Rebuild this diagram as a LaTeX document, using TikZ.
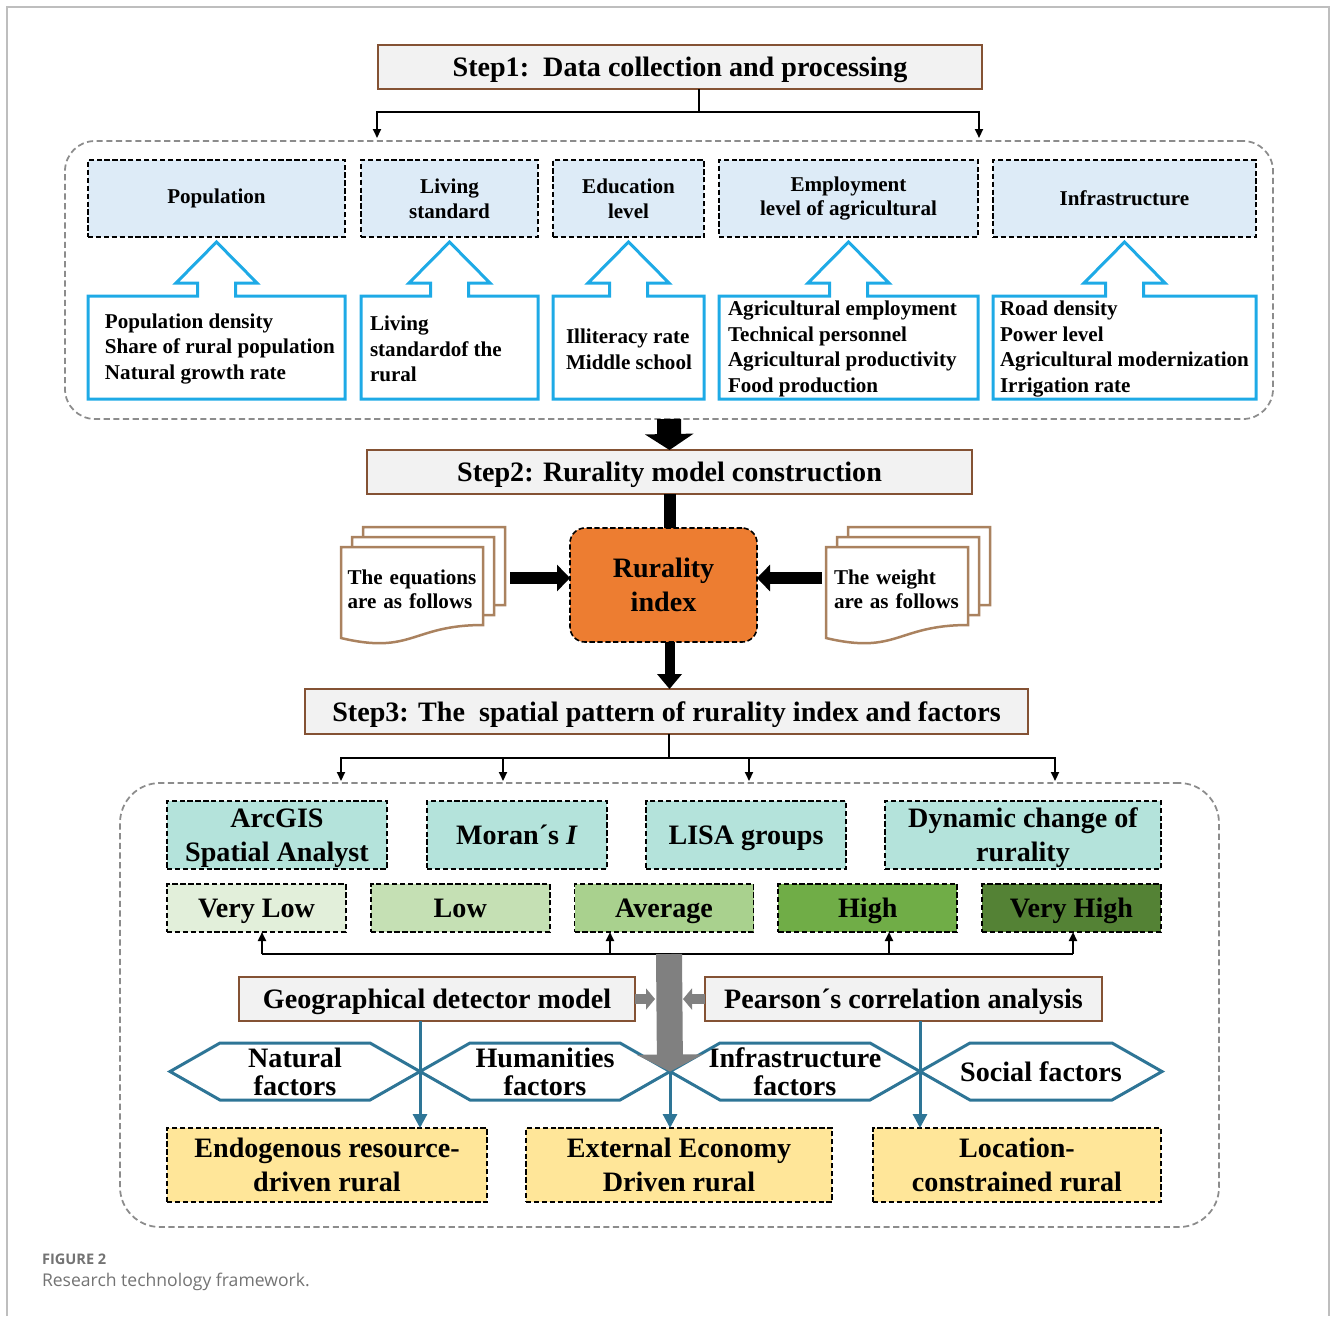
\documentclass[tikz,border=0pt]{standalone}
\usepackage{fontspec}
\setmainfont{Liberation Serif}
\newfontfamily\capfont{Open Sans}
\usetikzlibrary{arrows.meta}
\definecolor{brn}{RGB}{132,82,52}
\definecolor{boxgray}{RGB}{242,242,242}
\definecolor{ltblue}{RGB}{221,235,247}
\definecolor{cyn}{RGB}{30,170,230}
\definecolor{orng}{RGB}{237,125,49}
\definecolor{docbrn}{RGB}{170,130,95}
\definecolor{tealbg}{RGB}{180,227,219}
\definecolor{g1}{RGB}{226,239,218}
\definecolor{g2}{RGB}{197,224,180}
\definecolor{g3}{RGB}{169,209,142}
\definecolor{g4}{RGB}{112,173,71}
\definecolor{g5}{RGB}{84,130,53}
\definecolor{hexblue}{RGB}{46,117,150}
\definecolor{ylw}{RGB}{255,230,153}
\definecolor{frm}{RGB}{190,190,190}
\definecolor{capgray}{RGB}{115,115,115}
\definecolor{fatgray}{RGB}{128,128,128}
\tikzset{
    sz/.style 2 args={minimum width=#1*0.02cm, minimum height=#2*0.02cm},
    stepbox/.style={draw=brn, fill=boxgray, line width=1.2pt, text depth=0pt, font=\bfseries\fontsize{16}{19}\selectfont},
    dbox/.style={draw=black, line width=0.9pt, dash pattern=on 3pt off 1.5pt, align=center},
    topbox/.style={dbox, fill=ltblue, font=\bfseries\fontsize{12}{14.2}\selectfont},
    calbox/.style={align=left, font=\bfseries\fontsize{12}{14.6}\selectfont},
    doctext/.style={align=left, font=\bfseries\fontsize{12}{13.7}\selectfont},
    bigbox/.style={dbox, font=\bfseries\fontsize{16}{19.3}\selectfont},
    hexn/.style={align=center, font=\bfseries\fontsize{16}{16}\selectfont},
    cont/.style={draw=black!45, line width=1pt, dash pattern=on 3.5pt off 2pt},
    blk/.style={-{Triangle[length=0.18cm,width=0.16cm]}, line width=0.04cm},
    page/.style={draw=docbrn, fill=white, line width=0.05cm}
}
\begin{document}
\begin{tikzpicture}[x=0.02cm, y=-0.02cm,
    every node/.style={outer sep=0pt, inner sep=0pt, font=\bfseries}]
\useasboundingbox (0,0) rectangle (1331,1316);
\draw[frm, line width=1.2pt] (7,1316) -- (7,7) -- (1329,7) -- (1329,1316);

% step 1
\node[stepbox, sz={604}{44}] (step1) at (680,67) {Step1:\ \ Data collection and processing};
\node[cont, rounded corners=0.6cm, sz={1208}{278}] (box1) at (669,280) {};
\coordinate (j1) at (699,112);
\coordinate (a1) at (377,138);
\coordinate (a2) at (979,138);
\draw[line width=0.04cm] (step1.south -| j1) -- (j1);
\draw[blk] (j1) -| (a1);
\draw[blk] (j1) -| (a2);

\foreach \n/\cx/\w/\t in {pop/216.5/257/Population, liv/449.5/177/{Living\\standard},
    edu/628.5/151/{Education\\level}, emp/848.5/259/{Employment\\level of agricultural},
    inf/1124.5/263/Infrastructure}
  \node[topbox, sz={\w}{77}] (\n) at (\cx,198.5) {\t};

% indicator boxes with their arrows
\foreach \n/\cx/\w/\d/\t in {pop/216.5/257/0.34/{Population density\\Share of rural population\\Natural growth rate},
    liv/449.5/177/0.18/{Living\\standardof the\\rural},
    edu/628.5/151/0.26/{Illiteracy rate\\Middle school},
    emp/848.5/259/0.18/{Agricultural employment\\Technical personnel\\Agricultural productivity\\Food production},
    inf/1124.5/263/0.14/{Road density\\Power level\\Agricultural modernization\\Irrigation rate}} {
  \node[sz={\w}{103}] (\n i) at (\cx,347.5) {};
  \node[calbox, anchor=west] (\n t) at ([xshift=\d cm, yshift=-0.03cm]\n i.west) {\t};
  \draw[cyn, line width=0.06cm] (\n i.north west) -- ([xshift=-0.38cm]\n i.north) -- ++(0,-13)
    -- ++(-21.5,0) -- ++(40.5,-41) -- ++(40.5,41) -- ++(-21.5,0) -- ++(0,13)
    -- (\n i.north east) |- (\n i.south west) -- cycle;
}

% step 2
\node[stepbox, sz={605}{44}] (step2) at (669.5,472) {Step2: Rurality model construction};
\draw[line width=0.48cm, -{Triangle[length=0.32cm,width=0.96cm]}] (box1.south) -- (step2.north);

\node[dbox, fill=orng, rounded corners=0.3cm, sz={187}{114},
  font=\bfseries\fontsize{16}{19.3}\selectfont] (rur) at (663.5,585) {Rurality\\index};
\draw[line width=0.24cm] (step2.south) -- (step2.south |- rur.north);

\foreach \dx/\dy in {22/-20, 11/-10, 0/0} {
  \filldraw[page, shift={(341+\dx,547+\dy)}] (0,0) -- (142,0) -- (142,78)
    .. controls (71,78) and (71,108) .. (0,91) -- cycle;
  \filldraw[page, shift={(826+\dx,547+\dy)}] (0,0) -- (142,0) -- (142,78)
    .. controls (71,78) and (71,108) .. (0,91) -- cycle;
}
\node[doctext, sz={142}{80}, text width=2.58cm, inner xsep=0.13cm] (eq) at (412,589)
  {The equations\\are as follows};
\node[doctext, sz={142}{80}, text width=2.52cm, inner xsep=0.16cm] (wt) at (897,589)
  {The weight\\are as follows};
\coordinate (eqa) at ([xshift=0.54cm, yshift=0.22cm]eq.east);
\coordinate (wta) at ([xshift=-0.08cm, yshift=0.22cm]wt.west);
\draw[line width=0.24cm, -{Triangle[length=0.26cm,width=0.52cm]}] (eqa) -- (eqa -| rur.west);
\draw[line width=0.24cm, -{Triangle[length=0.26cm,width=0.52cm]}] (wta) -- (wta -| rur.east);

% step 3
\node[stepbox, sz={723}{45}] (step3) at (666.5,711.5) {Step3: The\ \ spatial pattern of rurality index and factors};
\draw[line width=0.2cm, -{Triangle[length=0.3cm,width=0.48cm]}] (rur.south -| step2.south) -- (step3.north -| step2.south);

\node[cont, rounded corners=0.8cm, sz={1099}{444}] (box2) at (669.5,1005) {};
\coordinate (j3) at (669,758);
\draw[line width=0.04cm] (step3.south -| j3) -- (j3);
\foreach \x in {341,503,749,1055} {
  \coordinate (b\x) at (\x,781);
  \draw[blk] (j3) -| (b\x);
}

\foreach \n/\cx/\w/\t in {arc/277/220/{ArcGIS\\Spatial Analyst}, mor/517/180/{Moran´s \textit{I}},
    lisa/746/200/LISA groups, dyn/1023/276/{Dynamic change of\\rurality}}
  \node[bigbox, fill=tealbg, text depth=0pt, sz={\w}{68}] (\n) at (\cx,835) {\t};

\foreach \n/\c/\t [count=\i] in {vl/g1/Very Low, lo/g2/Low, av/g3/Average, hi/g4/High, vh/g5/Very High}
  \node[bigbox, fill=\c, text depth=0pt, sz={179}{48}] (\n) at ({256.5+203.75*(\i-1)},908) {\t};

\coordinate (l1) at (262,954);
\coordinate (l2) at (610,954);
\coordinate (l3) at (889,954);
\coordinate (l4) at (1073,954);
\coordinate (lc) at (669,954);
\draw[line width=0.04cm] (l1) -- (l4);
\draw[blk] (l1) -- (vl.south -| l1);
\draw[blk] (l2) -- (av.south -| l2);
\draw[blk] (l3) -- (hi.south -| l3);
\draw[blk] (l4) -- (vh.south -| l4);

\node[stepbox, sz={396}{44}] (geo) at (437,999) {Geographical detector model};
\node[stepbox, sz={397}{44}] (pea) at (903.5,999) {Pearson´s correlation analysis};

\foreach \n/\cx/\w/\t in {nat/295/250/{Natural\\factors}, hum/545/250/{Humanities\\factors},
    ift/795/250/{Infrastructure\\factors}, soc/1041/242/Social factors} {
  \node[hexn, sz={\w}{57}] (\n) at (\cx,1071.5) {\t};
  \draw[hexblue, line width=0.06cm] (\n.west) -- ([xshift=1cm]\n.north west) -- ([xshift=-1cm]\n.north east)
    -- (\n.east) -- ([xshift=-1cm]\n.south east) -- ([xshift=1cm]\n.south west) -- cycle;
}

\draw[fatgray, line width=0.52cm, -{Triangle[length=0.34cm,width=1.32cm]}] (lc) -- (hum.east);
\draw[fatgray, line width=0.2cm, -{Triangle[length=0.18cm,width=0.42cm]}] (geo.east) -- ++(20,0);
\draw[fatgray, line width=0.2cm, -{Triangle[length=0.18cm,width=0.42cm]}] (pea.west) -- ++(-22,0);

\foreach \n/\cx/\w/\t in {en/327/320/{Endogenous resource-\\driven rural},
    ex/679/306/{External Economy\\Driven rural}, loc/1017/288/{Location-\\constrained rural}}
  \node[bigbox, fill=ylw, sz={\w}{74}] (\n) at (\cx,1165) {\t};

\draw[hexblue, line width=0.06cm, -{Triangle[length=0.28cm,width=0.28cm]}] (geo.south -| nat.east) -- (en.north -| nat.east);
\draw[hexblue, line width=0.06cm, -{Triangle[length=0.28cm,width=0.28cm]}] (hum.east) -- (ex.north -| hum.east);
\draw[hexblue, line width=0.06cm, -{Triangle[length=0.28cm,width=0.28cm]}] (pea.south -| ift.east) -- (loc.north -| ift.east);

% caption
\node[anchor=west, text=capgray, font=\capfont\bfseries\fontsize{8.3}{10}\selectfont] (fig) at (42,1259) {FIGURE 2};
\node[anchor=west, text=capgray, font=\capfont\mdseries\fontsize{10}{12}\selectfont] (cap) at (42,1282) {Research technology framework.};
\end{tikzpicture}
\end{document}
